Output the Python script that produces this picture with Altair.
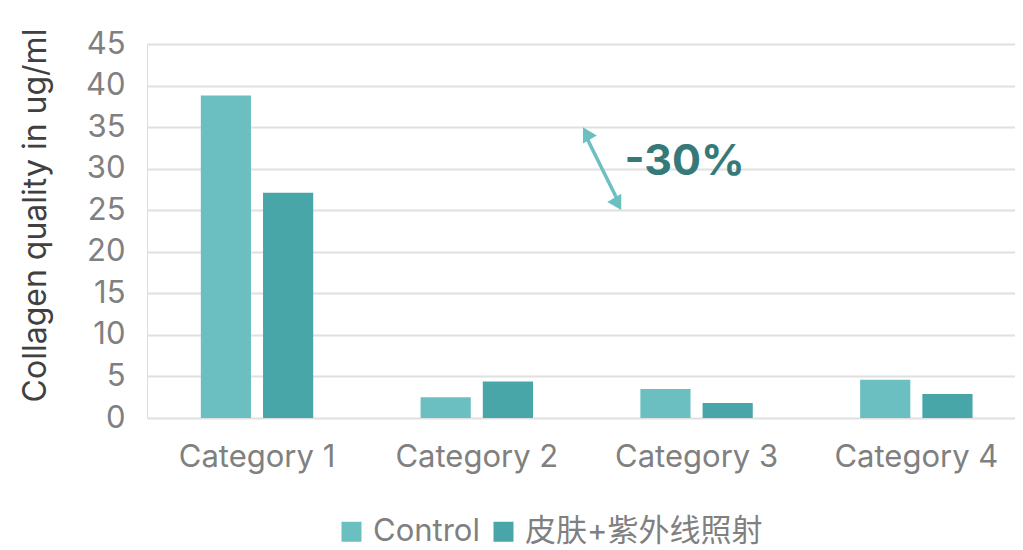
import altair as alt
import pandas as pd

categories = ["Category 1", "Category 2", "Category 3", "Category 4"]
series_names = ["Control", "皮肤+紫外线照射"]
control_values = [38.8, 2.5, 3.5, 4.6]
treated_values = [27.1, 4.4, 1.8, 2.9]
y_ticks = [0, 5, 10, 15, 20, 25, 30, 35, 40, 45]
colors = ["#6CBFC0", "#48A6A8"]

annot_label = ["-30%"]
annot_category = ["Category 3"]
annot_value = [30.8]
arrow_top = [34.0]
arrow_bottom = [26.0]

rows = []
for c, v1, v2 in zip(categories, control_values, treated_values):
    rows.append({"category": c, "series": series_names[0], "value": v1})
    rows.append({"category": c, "series": series_names[1], "value": v2})
df = pd.DataFrame(rows)

font = "Inter, Noto Sans CJK SC"

x_scale = alt.Scale(domain=categories, paddingInner=0.4886, paddingOuter=0.219, align=0.559)
y_scale = alt.Scale(domain=[0, 45], nice=False)

bars = alt.Chart(df).mark_bar().encode(
    x=alt.X("category:N", scale=x_scale, sort=categories,
            axis=alt.Axis(title=None, labelAngle=0, labelFontSize=31, labelColor="#808080",
                          labelFont=font, labelPadding=24, domain=False, ticks=False, grid=False)),
    xOffset=alt.XOffset("series:N", sort=series_names,
                        scale=alt.Scale(domain=series_names, paddingInner=0.1935, paddingOuter=0)),
    y=alt.Y("value:Q", scale=y_scale,
            axis=alt.Axis(title="Collagen quality in ug/ml", values=y_ticks, labelFontSize=31,
                          labelColor="#808080", labelFont=font, labelPadding=22,
                          titleFont=font, titleFontSize=32, titleFontWeight="normal",
                          titleColor="#404040", titlePadding=33, titleY=171,
                          domain=False, ticks=False,
                          grid=True, gridColor="#E0E0E0", gridWidth=2)),
    color=alt.Color("series:N", sort=series_names,
                    scale=alt.Scale(domain=series_names, range=colors),
                    legend=alt.Legend(title=None, orient="none", legendX=189, legendY=472,
                                      direction="horizontal",
                                      symbolType="square", symbolSize=400, symbolStrokeWidth=0,
                                      labelFontSize=31, labelColor="#808080", labelFont=font,
                                      labelLimit=500, columnPadding=8, labelOffset=6)),
)

adf = pd.DataFrame({"category": annot_category, "label": annot_label, "value": annot_value,
                    "top": arrow_top, "bottom": arrow_bottom})

text = alt.Chart(adf).mark_text(fontSize=43, fontWeight="bold", color="#357A79", font=font,
                                xOffset=-12, baseline="middle", align="center").encode(
    x=alt.X("category:N", scale=x_scale, sort=categories),
    y=alt.Y("value:Q", scale=y_scale),
    text="label:N",
)

rule = alt.Chart(adf).mark_rule(color="#6CC0C2", strokeWidth=3.5, xOffset=-111, x2Offset=-78).encode(
    x=alt.X("category:N", scale=x_scale, sort=categories),
    x2=alt.X2("category:N"),
    y=alt.Y("top:Q", scale=y_scale),
    y2=alt.Y2("bottom:Q"),
)

head_top = alt.Chart(adf).mark_point(shape="triangle", filled=True, color="#6CC0C2", opacity=1,
                                     size=260, angle=330, xOffset=-109).encode(
    x=alt.X("category:N", scale=x_scale, sort=categories),
    y=alt.Y("top:Q", scale=y_scale),
)
head_bottom = alt.Chart(adf).mark_point(shape="triangle", filled=True, color="#6CC0C2", opacity=1,
                                        size=260, angle=150, xOffset=-80).encode(
    x=alt.X("category:N", scale=x_scale, sort=categories),
    y=alt.Y("bottom:Q", scale=y_scale),
)

chart = alt.layer(bars, rule, head_top, head_bottom, text).properties(
    width=868, height=374,
    autosize=alt.AutoSizeParams(type="none"),
    padding={"left": 139, "top": 36, "right": 0, "bottom": 131},
).configure_view(stroke=None).configure(background="white")

chart.save("out.html", embed_options={"renderer": "svg", "actions": False})
